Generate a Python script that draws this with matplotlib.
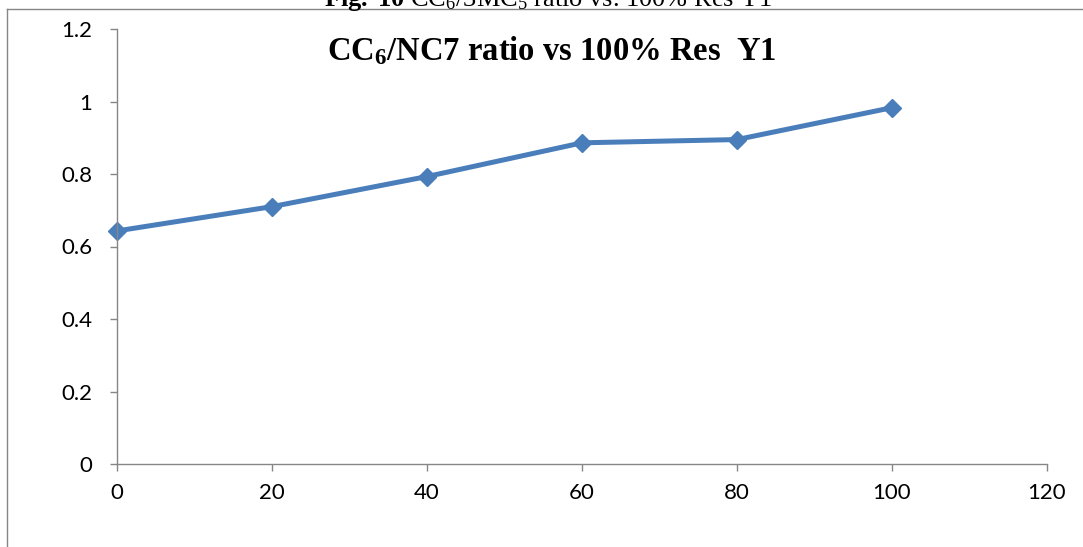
import matplotlib
matplotlib.use("Agg")
import matplotlib.pyplot as plt
from matplotlib.lines import Line2D

plt.rcParams['mathtext.fontset'] = 'custom'
plt.rcParams['mathtext.rm'] = 'Liberation Serif'
plt.rcParams['mathtext.bf'] = 'Liberation Serif:bold'
plt.rcParams['mathtext.it'] = 'Liberation Serif:italic'

# data
res_pct = [0, 20, 40, 60, 80, 100]
ratio   = [0.643, 0.710, 0.793, 0.886, 0.895, 0.983]
xticks  = [0, 20, 40, 60, 80, 100, 120]
yticks  = [0, 0.2, 0.4, 0.6, 0.8, 1, 1.2]
yticklabels = ["0", "0.2", "0.4", "0.6", "0.8", "1", "1.2"]

W, H = 1083, 547
fig = plt.figure(figsize=(W / 100, H / 100), dpi=100)
ax = fig.add_axes([117 / W, 1 - 464 / H, (1047 - 117) / W, (464 - 29) / H])

grey = "#868686"
blue = "#4a7ebb"

ax.plot(res_pct, ratio, color=blue, lw=3.6, marker="D", ms=9,
        mfc=blue, mec=blue, mew=1, solid_joinstyle="round", clip_on=False)

ax.set_xlim(0, 120)
ax.set_ylim(0, 1.2)
ax.set_xticks(xticks)
ax.set_xticklabels([str(v) for v in xticks])
ax.set_yticks(yticks)
ax.set_yticklabels(yticklabels)

for s in ("top", "right"):
    ax.spines[s].set_visible(False)
for s in ("left", "bottom"):
    ax.spines[s].set_color(grey)
    ax.spines[s].set_linewidth(1.0)

ax.tick_params(axis="both", direction="out", length=5, width=1, color=grey,
               labelsize=16)
ax.tick_params(axis="x", pad=9)
ax.tick_params(axis="y", pad=13)
for lab in ax.get_xticklabels() + ax.get_yticklabels():
    lab.set_family("Lato")

# chart title inside the plot area
ax.text(0.467, 0.988, r"CC$_{\mathbf{6}}$/NC7 ratio vs 100% Res  Y1",
        transform=ax.transAxes, ha="center", va="top",
        family="Liberation Serif", weight="bold", fontsize=23.5)

# figure caption above the chart border (runs off the top edge)
fig.text(548 / W, 1 - 6 / H,
         r"$\mathbf{Fig.\ 10}$ CC$_6$/3MC$_5$ ratio vs. 100% Res Y1",
         ha="center", va="baseline", family="Liberation Serif", fontsize=19)

# chart area border (top and left edges)
fig.add_artist(Line2D([7 / W, 1.0], [1 - 9 / H, 1 - 9 / H], color=grey, lw=1.0))
fig.add_artist(Line2D([7 / W, 7 / W], [0.0, 1 - 9 / H], color=grey, lw=1.0))

fig.savefig("out.png", dpi=100)
